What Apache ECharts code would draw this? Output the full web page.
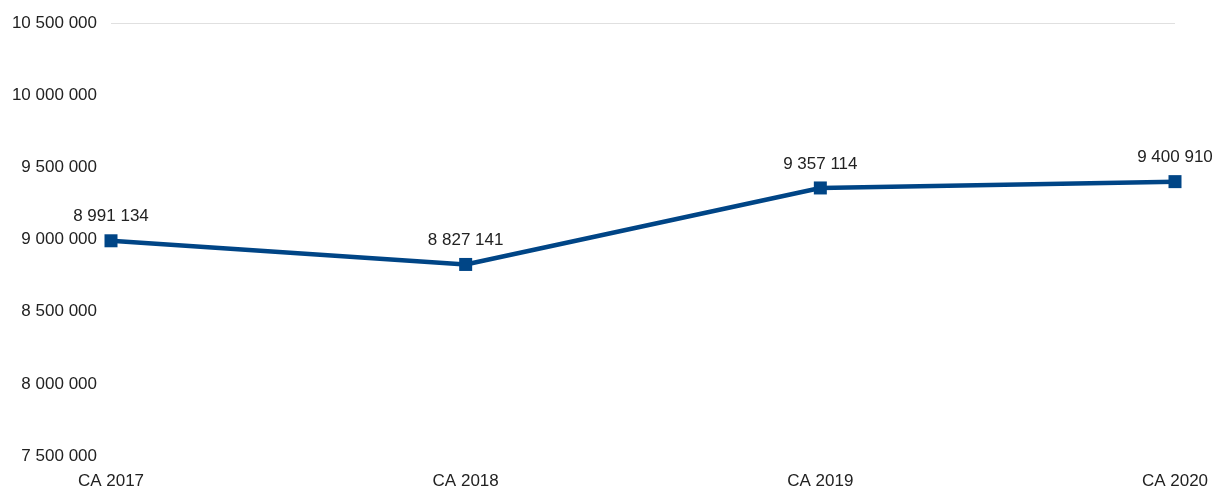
<!DOCTYPE html>
<html>
<head>
<meta charset="utf-8">
<script src="https://cdn.jsdelivr.net/npm/echarts@6/dist/echarts.min.js"></script>
<style>
html,body{margin:0;padding:0;background:#fff;}
#chart{width:1214px;height:490px;}
</style>
</head>
<body>
<div id="chart"></div>
<script>
const categories = ['CA 2017', 'CA 2018', 'CA 2019', 'CA 2020'];
const values = [8991134, 8827141, 9357114, 9400910];
const yMin = 7500000, yMax = 10500000, yStep = 500000;

function fmt(v) {
  return String(Math.round(v)).replace(/\B(?=(\d{3})+(?!\d))/g, ' ');
}

const chart = echarts.init(document.getElementById('chart'));
chart.setOption({
  animation: false,
  backgroundColor: '#ffffff',
  grid: { left: 111, right: 39, top: 23, bottom: 34, containLabel: false },
  xAxis: {
    type: 'category',
    data: categories,
    boundaryGap: false,
    axisLine: { show: false },
    axisTick: { show: false },
    axisLabel: { color: '#222', fontSize: 17, fontFamily: 'Liberation Sans', margin: 17 }
  },
  yAxis: {
    type: 'value',
    min: yMin, max: yMax, interval: yStep,
    axisLine: { show: false },
    axisTick: { show: false },
    axisLabel: { color: '#222', fontSize: 17, fontFamily: 'Liberation Sans', margin: 14, formatter: fmt },
    splitLine: {
      show: true,
      lineStyle: { color: ['transparent','transparent','transparent','transparent','transparent','transparent','#e0e0e0'], width: 1 }
    }
  },
  series: [{
    type: 'line',
    data: values,
    symbol: 'rect',
    symbolSize: 13,
    lineStyle: { color: '#004586', width: 4.5 },
    itemStyle: { color: '#004586' },
    label: {
      show: true,
      position: 'top',
      distance: 9,
      color: '#222',
      fontSize: 17,
      fontFamily: 'Liberation Sans',
      formatter: p => fmt(p.value)
    }
  }]
});
</script>
</body>
</html>
